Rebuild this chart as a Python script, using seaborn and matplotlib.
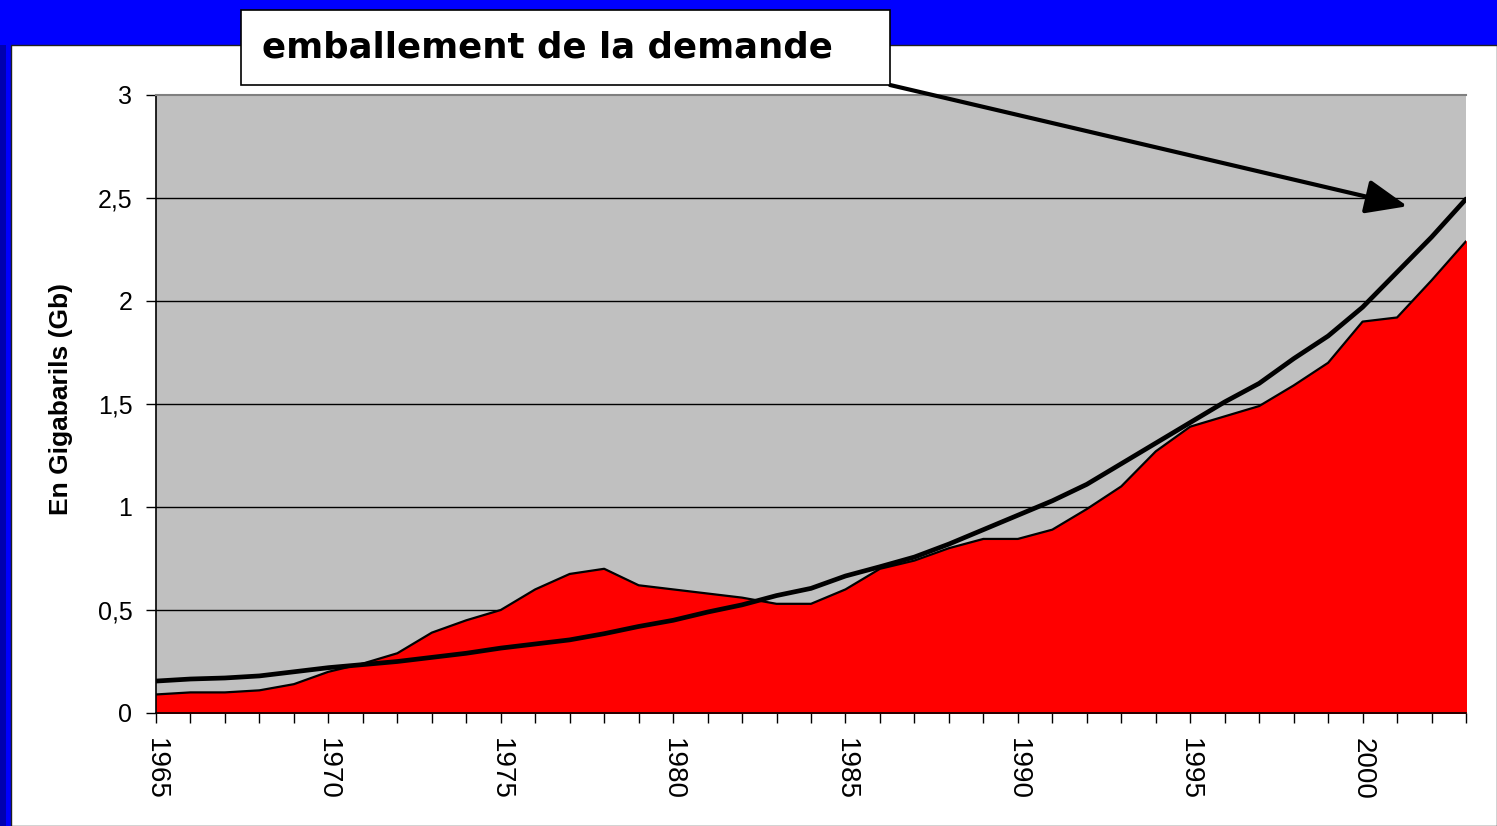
import numpy as np
import pandas as pd
import matplotlib
matplotlib.use("Agg")
import matplotlib.pyplot as plt
import matplotlib.patches as mpatches
import seaborn as sns

# years 1965-2003
years = list(range(1965, 2004))

# red area: discoveries / production (Gb)
production = [0.09, 0.10, 0.10, 0.11, 0.14, 0.20, 0.24, 0.29, 0.39, 0.45,
              0.50, 0.60, 0.675, 0.70, 0.62, 0.60, 0.58, 0.56, 0.53, 0.53,
              0.60, 0.70, 0.74, 0.80, 0.845, 0.845, 0.89, 0.99, 1.10, 1.27,
              1.39, 1.44, 1.49, 1.59, 1.70, 1.90, 1.92, 2.10, 2.29]

# black line: demand (Gb)
demand = [0.155, 0.165, 0.17, 0.18, 0.20, 0.22, 0.235, 0.25, 0.27, 0.29,
          0.315, 0.335, 0.355, 0.385, 0.42, 0.45, 0.49, 0.525, 0.57, 0.605,
          0.665, 0.71, 0.757, 0.82, 0.89, 0.96, 1.03, 1.11, 1.21, 1.31,
          1.41, 1.51, 1.60, 1.72, 1.83, 1.97, 2.14, 2.31, 2.495]

year_labels = [str(y) if y % 5 == 0 else "" for y in years]
y_ticks = [0, 0.5, 1, 1.5, 2, 2.5, 3]
y_tick_labels = ["0", "0,5", "1", "1,5", "2", "2,5", "3"]

df = pd.DataFrame({"year": years, "production": production, "demand": demand})

sns.set_style("white")
plt.rcParams['font.family'] = ['Liberation Sans', 'DejaVu Sans']
plt.rcParams['text.color'] = 'black'
plt.rcParams['xtick.color'] = 'black'
plt.rcParams['ytick.color'] = 'black'
plt.rcParams['axes.labelcolor'] = 'black'

fig = plt.figure(figsize=(14.97, 8.26), dpi=100)
fig.patch.set_facecolor("#0000FF")

# white slide panel (drawn below the axes)
W, H = 1497, 826
fig.patches.append(mpatches.Rectangle((11 / W, 0), 1 - 11 / W, 1 - 45 / H,
                                      transform=fig.transFigure, facecolor="white",
                                      edgecolor="#202020", linewidth=1.0, zorder=-10))
# darker strip on the left edge
fig.patches.append(mpatches.Rectangle((0, 0), 6 / W, 1 - 45 / H,
                                      transform=fig.transFigure, facecolor="#0000B0",
                                      edgecolor="none", zorder=-10))

ax = fig.add_axes([156 / W, 1 - 713 / H, (1466 - 156) / W, (713 - 95) / H])
ax.set_facecolor("#C0C0C0")

for yv in [0.5, 1, 1.5, 2, 2.5]:
    ax.axhline(yv, color="black", linewidth=1.0, zorder=1)

ax.fill_between(df["year"], 0, df["production"], color="#FF0000", zorder=2)
sns.lineplot(data=df, x="year", y="production", color="black", linewidth=1.6, ax=ax, zorder=3)
sns.lineplot(data=df, x="year", y="demand", color="black", linewidth=3.4, ax=ax, zorder=4)

ax.set_xlim(1965, 2003)
ax.set_ylim(0, 3)
ax.set_xticks(years)
ax.set_xticklabels(year_labels, rotation=-90, fontsize=20)
ax.set_yticks(y_ticks)
ax.set_yticklabels(y_tick_labels, fontsize=18)
ax.tick_params(axis="x", bottom=True, direction="out", length=7, width=1, color="black", pad=11)
ax.tick_params(axis="y", left=True, direction="out", length=7, width=1, color="black", pad=10)
ax.set_xlabel("")
ax.set_ylabel("En Gigabarils (Gb)", fontsize=19, fontweight="bold")
ax.yaxis.set_label_coords(-0.0634, 0.508)

for side in ["left", "bottom"]:
    ax.spines[side].set_color("black")
    ax.spines[side].set_linewidth(1.2)
for side in ["top", "right"]:
    ax.spines[side].set_color("#808080")
    ax.spines[side].set_linewidth(1.5)
ax.spines["right"].set_visible(False)

# annotation box + arrow
fig.patches.append(mpatches.Rectangle((241 / W, 1 - 85 / H), (890 - 241) / W, 75 / H,
                                      transform=fig.transFigure, facecolor="white",
                                      edgecolor="black", linewidth=1.2, zorder=5))
fig.text(262 / W, 1 - 47 / H, "emballement de la demande", fontsize=25.6, fontweight="bold",
         family=["DejaVu Sans"], color="black", va="center", ha="left", zorder=6)
ax.annotate("", xy=(2001.3, 2.46), xycoords="data",
            xytext=(890 / W, 1 - 85 / H), textcoords="figure fraction",
            arrowprops=dict(arrowstyle="-|>,head_length=1.7,head_width=0.7",
                            mutation_scale=15, color="black", linewidth=3.0,
                            shrinkA=0, shrinkB=0),
            annotation_clip=False, zorder=7)

fig.savefig("out.png", dpi=100, facecolor=fig.get_facecolor())
